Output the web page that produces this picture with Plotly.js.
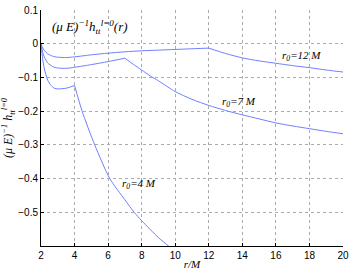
<!DOCTYPE html>
<html><head><meta charset="utf-8">
<script src="https://cdn.plot.ly/plotly-3.0.1.min.js"></script>
<style>body{margin:0;background:#fff}#c{width:352px;height:273px}</style>
</head><body><div id="c"></div>
<script>
// r0 = 12 M
const x12 = [2, 2.1, 2.2, 2.4, 2.7, 3, 3.5, 4, 5, 6, 7, 8, 9, 10, 11, 12, 13, 14, 15, 16, 17, 18, 19, 20];
const y12 = [0, -0.012, -0.02, -0.03, -0.037, -0.040, -0.041, -0.039, -0.033, -0.028, -0.024, -0.021, -0.019, -0.017, -0.015, -0.013, -0.029, -0.042, -0.051, -0.058, -0.065, -0.071, -0.078, -0.084];
// r0 = 7 M
const x7 = [2, 2.1, 2.2, 2.4, 2.7, 3, 3.5, 4, 5, 6, 7, 7.5, 8, 8.5, 9, 10, 11, 12, 13, 14, 15, 16, 17, 18, 19, 20];
const y7 = [0, -0.025, -0.04, -0.057, -0.068, -0.072, -0.073, -0.070, -0.062, -0.053, -0.043, -0.061, -0.078, -0.095, -0.110, -0.142, -0.165, -0.183, -0.198, -0.211, -0.223, -0.235, -0.244, -0.252, -0.260, -0.267];
// r0 = 4 M
const x4 = [2, 2.1, 2.2, 2.4, 2.6, 2.8, 3, 3.5, 4, 4.45, 5.2, 6.1, 7, 7.55, 8, 9, 9.6, 10];
const y4 = [0, -0.045, -0.075, -0.108, -0.124, -0.132, -0.134, -0.132, -0.124, -0.200, -0.300, -0.400, -0.463, -0.500, -0.525, -0.575, -0.600, -0.615];
const series = [{x: x12, y: y12, r0: 12}, {x: x7, y: y7, r0: 7}, {x: x4, y: y4, r0: 4}];

const xTicks = [2, 4, 6, 8, 10, 12, 14, 16, 18, 20];
const yTicks = [0.1, 0, -0.1, -0.2, -0.3, -0.4, -0.5];
const yTickText = ['0.1', '0', '\u22120.1', '\u22120.2', '\u22120.3', '\u22120.4', '\u22120.5'];

const lineStyle = {color: '#6f7fff', width: 1, shape: 'spline', smoothing: 0.7};
const traces = [];
series.forEach(s => {
  const k = s.x.indexOf(s.r0);
  traces.push({x: s.x.slice(0, k + 1), y: s.y.slice(0, k + 1), mode: 'lines', line: lineStyle, hoverinfo: 'skip'});
  traces.push({x: s.x.slice(k), y: s.y.slice(k), mode: 'lines', line: lineStyle, hoverinfo: 'skip'});
});
const serif = {family: 'Liberation Serif, serif', size: 11, color: '#000'};
const layout = {
  width: 352, height: 273,
  margin: {l: 41, r: 9, t: 10, b: 27, pad: 0},
  paper_bgcolor: '#fff', plot_bgcolor: '#fff',
  showlegend: false,
  font: {family: 'Liberation Sans, Arial, sans-serif', size: 10, color: '#000'},
  xaxis: {
    range: [2, 20], tickvals: xTicks, ticktext: xTicks.map(String),
    ticks: 'inside', ticklen: 3, tickcolor: '#000',
    showline: true, linecolor: '#000', linewidth: 1,
    showgrid: true, gridcolor: '#ababab', griddash: 'dot', gridwidth: 1,
    zeroline: false,
    title: {text: '<i>r/M</i>', font: serif, standoff: 0}
  },
  yaxis: {
    range: [-0.6, 0.1], tickvals: yTicks, ticktext: yTickText,
    ticks: 'inside', ticklen: 3, tickcolor: '#000',
    showline: true, linecolor: '#000', linewidth: 1,
    showgrid: true, gridcolor: '#ababab', griddash: 'dot', gridwidth: 1,
    zeroline: false,
    title: {text: '<i>(\u03bc E)<sup>\u22121</sup> h<sub>tt</sub><sup>l=0</sup></i>', font: {family: 'Liberation Serif, serif', size: 12, color: '#000'}, standoff: 3}
  },
  annotations: [
    {xref: 'paper', yref: 'paper', x: 0.03, y: 0.93, xanchor: 'left', yanchor: 'middle', showarrow: false,
     text: '<i>(\u03bc E)<sup>\u22121</sup>h<sub>tt</sub><sup>l=0</sup>(r)</i>', font: {family: 'Liberation Serif, serif', size: 13, color: '#000'}},
    {x: 17.55, y: -0.037, xref: 'x', yref: 'y', showarrow: false,
     text: '<i>r<sub>0</sub>=12 M</i>', font: serif},
    {x: 13.8, y: -0.174, xref: 'x', yref: 'y', showarrow: false,
     text: '<i>r<sub>0</sub>=7 M</i>', font: serif},
    {x: 7.84, y: -0.416, xref: 'x', yref: 'y', showarrow: false,
     text: '<i>r<sub>0</sub>=4 M</i>', font: serif}
  ]
};
Plotly.newPlot('c', traces, layout, {displayModeBar: false, staticPlot: true});
</script></body></html>
